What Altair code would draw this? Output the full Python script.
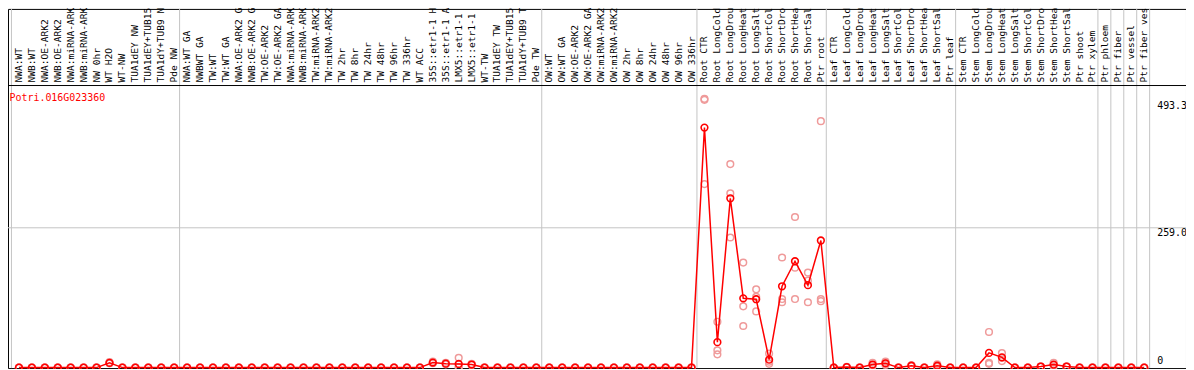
import altair as alt
import pandas as pd

gene_name = "Potri.016G023360"

samples = [
    # NW
    "NWA:WT", "NWB:WT", "NWA:OE-ARK2", "NWB:OE-ARK2", "NWA:miRNA-ARK2", "NWB:miRNA-ARK2",
    "NW 0hr", "WT H2O", "WT-NW", "TUA1dEY NW", "TUA1dEY+TUB15 NW", "TUA1dY+TUB9 NW", "Pde NW",
    # TW
    "NWA:WT GA", "NWBWT GA", "TW:WT", "TW:WT GA", "NWA:OE-ARK2 GA", "NWB:OE-ARK2 GA",
    "TW:OE-ARK2", "TW:OE-ARK2 GA", "NWA:miRNA-ARK2 GA", "NWB:miRNA-ARK2 GA", "TW:miRNA-ARK2",
    "TW:miRNA-ARK2 GA", "TW 2hr", "TW 8hr", "TW 24hr", "TW 48hr", "TW 96hr", "TW 336hr",
    "WT ACC", "35S::etr1-1 H2O", "35S::etr1-1 ACC", "LMX5::etr1-1 H2O", "LMX5::etr1-1 ACC",
    "WT-TW", "TUA1dEY TW", "TUA1dEY+TUB15 TW", "TUA1dY+TUB9 TW", "Pde TW",
    # OW
    "OW:WT", "OW:WT GA", "OW:OE-ARK2", "OW:OE-ARK2 GA", "OW:miRNA-ARK2", "OW:miRNA-ARK2 GA",
    "OW 2hr", "OW 8hr", "OW 24hr", "OW 48hr", "OW 96hr", "OW 336hr",
    # Root
    "Root CTR", "Root LongCold", "Root LongDrought", "Root LongHeat", "Root LongSalt",
    "Root ShortCold", "Root ShortDrought", "Root ShortHeat", "Root ShortSalt", "Ptr root",
    # Leaf
    "Leaf CTR", "Leaf LongCold", "Leaf LongDrought", "Leaf LongHeat", "Leaf LongSalt",
    "Leaf ShortCold", "Leaf ShortDrought", "Leaf ShortHeat", "Leaf ShortSalt", "Ptr leaf",
    # Stem
    "Stem CTR", "Stem LongCold", "Stem LongDrought", "Stem LongHeat", "Stem LongSalt",
    "Stem ShortCold", "Stem ShortDrought", "Stem ShortHeat", "Stem ShortSalt", "Ptr shoot",
    "Ptr xylem",
    # single tissues
    "Ptr phloem", "Ptr fiber", "Ptr vessel", "Ptr fiber vessel",
]

group_sizes = [13, 28, 12, 10, 10, 11, 1, 1, 1, 1]

rep1 = [
    0, 0, 0, 0, 0, 0, 0, 10, 0, 0, 0, 0, 0,
    0, 0, 0, 0, 0, 0, 0, 0, 0, 0, 0, 0, 0, 0, 0, 0, 0, 0, 0, 11, 9, 18, 7, 0, 0, 0, 0, 0,
    0, 0, 0, 0, 0, 0, 0, 0, 0, 0, 0, 0,
    498, 85, 377, 194.5, 145, 26, 204, 279, 176, 456.5,
    0, 1.5, 0, 9, 11, 0, 4, 0, 6, 0,
    0, 0, 66, 27, 0, 0, 2, 9, 2, 0, 0,
    0, 0, 0, 0,
]
rep2 = [
    0, 0, 0, 0, 0, 0, 0, 8, 0, 0, 0, 0, 0,
    0, 0, 0, 0, 0, 0, 0, 0, 0, 0, 0, 0, 0, 0, 0, 0, 0, 0, 0, 9, 7, 1, 5, 0, 0, 0, 0, 0,
    0, 0, 0, 0, 0, 0, 0, 0, 0, 0, 0, 0,
    496, 32, 323, 113.5, 104, 11, 127, 185, 161, 127,
    0, 1, 0, 5, 8, 0, 3.5, 0, 3, 0,
    0, 0, 8.6, 18, 0, 0, 2, 5, 2, 0, 0,
    0, 0, 0, 0,
]
rep3 = [
    0, 0, 0, 0, 0, 0, 0, 8, 0, 0, 0, 0, 0,
    0, 0, 0, 0, 0, 0, 0, 0, 0, 0, 0, 0, 0, 0, 0, 0, 0, 0, 0, 8, 6, 1, 5, 0, 0, 0, 0, 0,
    0, 0, 0, 0, 0, 0, 0, 0, 0, 0, 0, 0,
    340, 24.5, 241, 77, 131, 7, 121, 127, 121, 123,
    0, 0.5, 0, 3, 5, 0, 3, 0, 1.5, 0,
    0, 0, 7, 12, 0, 0, 2, 2.5, 2, 0, 0,
    0, 0, 0, 0,
]

y_ticks = [0, 259.0, 493.3]
y_tick_labels = ["0", "259.0", "493.3"]

# ---------------------------------------------------------------- tables
n = len(samples)
mean_df = pd.DataFrame({
    "idx": list(range(n)),
    "name": samples,
    "mean": [(a + b + c) / 3 for a, b, c in zip(rep1, rep2, rep3)],
})
rep_df = pd.DataFrame({
    "idx": list(range(n)) * 3,
    "value": rep1 + rep2 + rep3,
})

bounds = [-0.5]
s = 0
for g in group_sizes:
    s += g
    bounds.append(s - 0.5)
sep_df = pd.DataFrame({"pos": [b - 0.08 for b in bounds]})

tick_df = pd.DataFrame({"v": y_ticks, "label": y_tick_labels})

W, H = 1184, 361
xs = alt.Scale(domain=[-11 / 13, -11 / 13 + W / 13], nice=False, zero=False)
ys = alt.Scale(domain=[-0.92, -0.92 + H / 0.5425], nice=False, zero=False)
FONT = "DejaVu Sans Mono"
RED = "#ff0000"
PINK = "#ef9a9a"
GREY = "#c4c4c4"

seps = alt.Chart(sep_df).mark_rule(color=GREY, strokeWidth=1).encode(
    x=alt.X("pos:Q", scale=xs, axis=None),
    y=alt.value(0),
    y2=alt.value(H),
)

grid = alt.Chart(tick_df[tick_df.v == 259.0]).mark_rule(color=GREY, strokeWidth=1).encode(
    y=alt.Y("v:Q", scale=ys, axis=None),
    x=alt.value(0),
    x2=alt.value(W),
)

header_line = alt.Chart(tick_df.head(1)).mark_rule(color="black", strokeWidth=1).encode(
    y=alt.value(77),
    x=alt.value(0),
    x2=alt.value(W),
)

reps = alt.Chart(rep_df).mark_point(
    shape="circle", filled=False, color=PINK, size=45, strokeWidth=1.5, opacity=1
).encode(
    x=alt.X("idx:Q", scale=xs, axis=None),
    y=alt.Y("value:Q", scale=ys, axis=None),
)

line = alt.Chart(mean_df).mark_line(color=RED, strokeWidth=1.5).encode(
    x=alt.X("idx:Q", scale=xs, axis=None),
    y=alt.Y("mean:Q", scale=ys, axis=None),
)

means = alt.Chart(mean_df).mark_point(
    shape="circle", filled=False, color=RED, size=45, strokeWidth=1.6, opacity=1
).encode(
    x=alt.X("idx:Q", scale=xs, axis=None),
    y=alt.Y("mean:Q", scale=ys, axis=None),
)

labels = alt.Chart(mean_df).mark_text(
    angle=270, align="left", baseline="middle", font=FONT, fontSize=9.6, color="black"
).encode(
    x=alt.X("idx:Q", scale=xs, axis=None),
    y=alt.value(74),
    text="name:N",
)

gene = alt.Chart(pd.DataFrame({"t": [gene_name]})).mark_text(
    align="left", baseline="middle", font=FONT, fontSize=10, color=RED
).encode(
    x=alt.value(1.5),
    y=alt.value(90),
    text="t:N",
)

tick_top = alt.Chart(tick_df[tick_df.v > 0]).mark_text(
    align="left", baseline="top", font=FONT, fontSize=10, color="black", dy=0
).encode(
    x=alt.value(1155),
    y=alt.Y("v:Q", scale=ys, axis=None),
    text="label:N",
)
tick_zero = alt.Chart(tick_df[tick_df.v == 0]).mark_text(
    align="left", baseline="bottom", font=FONT, fontSize=10, color="black", dy=-2
).encode(
    x=alt.value(1155),
    y=alt.Y("v:Q", scale=ys, axis=None),
    text="label:N",
)

chart = alt.layer(
    seps, grid, header_line, reps, line, means, labels, gene, tick_top, tick_zero
).properties(
    width=W, height=H, padding=0, autosize=alt.AutoSizeParams(type="none"),
    background="white",
).configure_view(stroke="black", strokeWidth=1)

chart.save("out.html", embed_options={"renderer": "svg", "actions": False})
